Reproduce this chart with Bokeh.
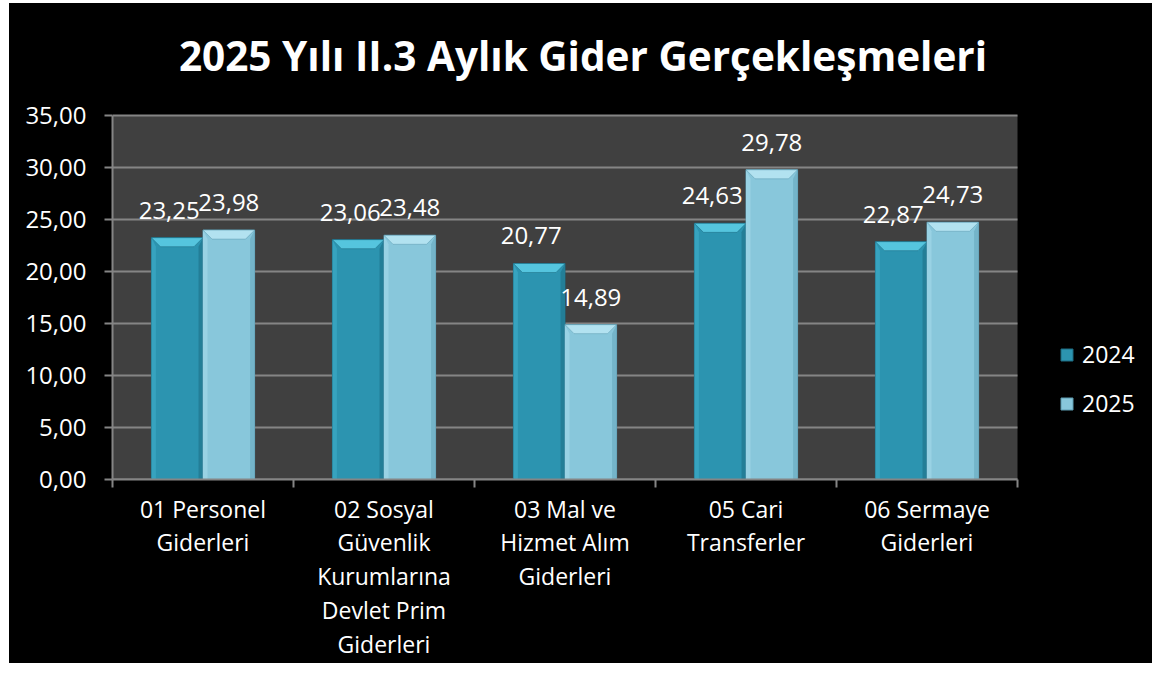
from bokeh.plotting import figure
from bokeh.models import FixedTicker, Legend, LegendItem, ColumnDataSource
from bokeh.core.properties import value
from bokeh.embed import file_html
from bokeh.resources import INLINE

categories = ["01 Personel\nGiderleri",
              "02 Sosyal\nGüvenlik\nKurumlarına\nDevlet Prim\nGiderleri",
              "03 Mal ve\nHizmet Alım\nGiderleri",
              "05 Cari\nTransferler",
              "06 Sermaye\nGiderleri"]
series_names = ["2024", "2025"]
v2024 = [23.25, 23.06, 20.77, 24.63, 22.87]
v2025 = [23.98, 23.48, 14.89, 29.78, 24.73]
y_ticks = [0, 5, 10, 15, 20, 25, 30, 35]
title_text = "2025 Yılı II.3 Aylık Gider Gerçekleşmeleri"

FONT = "Open Sans"
GRID = "#858585"
n = len(categories)
y_max = y_ticks[-1]
bar_w = 0.285
main_colors = ["#2C94B0", "#88C7DB"]
top_colors = ["#55C5DE", "#B2E2F0"]
left_colors = ["#37A3BF", "#99D2E4"]
right_colors = ["#237E97", "#74B4C9"]
edge_colors = ["#1C6A80", "#5C9BB0"]
label_shift = [-8, 0]

# layout (pixels): plot area 905 x 364, frame extended right for the legend
# and upward for the title
W, H = 1143, 660
left_b, right_b, top_b, bottom_b = 103, 8, 5, 184
plot_w, plot_h = 905, 364
frame_w = W - left_b - right_b
frame_h = H - top_b - bottom_b
px_x = plot_w / n          # px per category
px_y = plot_h / y_max      # px per value unit
x_end = frame_w / px_x
y_end = frame_h / px_y

p = figure(width=W, height=H, x_range=(0, x_end), y_range=(0, y_end),
           output_backend="svg", toolbar_location=None,
           background_fill_color="black", border_fill_color="black",
           outline_line_color=None,
           min_border_left=left_b, min_border_right=right_b,
           min_border_top=top_b, min_border_bottom=bottom_b)
p.styles = {"background-color": "black", "margin-left": "9px",
            "margin-top": "3px"}

# title (centre ~60 px above the plot area)
p.text(x=[n / 2], y=[y_max + 60 / px_y], text=[title_text], text_color="white",
       text_font=value(FONT), text_font_size="40.5px", text_font_style="bold",
       text_align="center", text_baseline="middle", x_offset=18)

# plot area background and grid lines
p.quad(left=[0], right=[n], bottom=[0], top=[y_max], fill_color="#404040",
       line_color=None)
p.segment(x0=[0] * len(y_ticks), x1=[n] * len(y_ticks), y0=y_ticks, y1=y_ticks,
          line_color=GRID, line_width=2)

p.xgrid.grid_line_color = None
p.ygrid.grid_line_color = None

# y axis
p.yaxis.ticker = FixedTicker(ticks=y_ticks)
p.yaxis.bounds = (0, y_max)
p.yaxis.major_label_overrides = {v: f"{v:.2f}".replace(".", ",") for v in y_ticks}
p.yaxis.axis_line_color = GRID
p.yaxis.axis_line_width = 2
p.yaxis.major_tick_line_color = GRID
p.yaxis.major_tick_line_width = 2
p.yaxis.major_tick_out = 8
p.yaxis.major_tick_in = 0
p.yaxis.minor_tick_line_color = None
p.yaxis.major_label_standoff = 18
p.yaxis.major_label_text_color = "white"
p.yaxis.major_label_text_font = FONT
p.yaxis.major_label_text_font_size = "24px"

# x axis
centers = [i + 0.5 for i in range(n)]
p.xaxis.ticker = FixedTicker(ticks=centers, minor_ticks=list(range(n + 1)))
p.xaxis.bounds = (0, n)
p.xaxis.major_label_overrides = {c: lab for c, lab in zip(centers, categories)}
p.xaxis.axis_line_color = GRID
p.xaxis.axis_line_width = 2
p.xaxis.major_tick_line_color = None
p.xaxis.major_tick_out = 0
p.xaxis.major_tick_in = 0
p.xaxis.minor_tick_line_color = GRID
p.xaxis.minor_tick_line_width = 2
p.xaxis.minor_tick_out = 8
p.xaxis.minor_tick_in = 0
p.xaxis.major_label_standoff = 5
p.xaxis.major_label_text_color = "white"
p.xaxis.major_label_text_font = FONT
p.xaxis.major_label_text_font_size = "23px"
p.xaxis.major_label_text_line_height = 1.06

# bevel sizes (in data units, roughly 9 px)
dx = 9 / px_x
dy = 9 / px_y

legend_items = []
for k, vals in enumerate([v2024, v2025]):
    off = -bar_w / 2 if k == 0 else bar_w / 2
    xs = [c + off for c in centers]
    src = ColumnDataSource(dict(x=xs, top=vals,
                                lab=[f"{v:.2f}".replace(".", ",") for v in vals]))
    r = p.vbar(x="x", top="top", width=bar_w, bottom=0, source=src,
               fill_color=main_colors[k], line_color=edge_colors[k], line_width=1)
    legend_items.append(LegendItem(label=series_names[k], renderers=[r]))
    txs, tys, lxs, lys, rxs, rys = [], [], [], [], [], []
    for x, v in zip(xs, vals):
        x0, x1 = x - bar_w / 2, x + bar_w / 2
        txs.append([x0, x1, x1 - dx, x0 + dx])
        tys.append([v, v, v - dy, v - dy])
        lxs.append([x0, x0 + dx * 0.5, x0 + dx * 0.5, x0])
        lys.append([v, v - dy, 0, 0])
        rxs.append([x1, x1 - dx * 0.5, x1 - dx * 0.5, x1])
        rys.append([v, v - dy, 0, 0])
    p.patches(lxs, lys, fill_color=left_colors[k], line_color=None)
    p.patches(rxs, rys, fill_color=right_colors[k], line_color=None)
    p.patches(txs, tys, fill_color=top_colors[k], line_color=edge_colors[k],
              line_width=0.5)
    p.text(x="x", y="top", text="lab", source=src, text_color="white",
           text_font=value(FONT), text_font_size="24px", text_align="center",
           text_baseline="bottom", y_offset=-19, x_offset=label_shift[k])

legend = Legend(items=legend_items, location=(947, 60),
                background_fill_alpha=0, border_line_color=None,
                label_text_color="white", label_text_font=FONT,
                label_text_font_size="23px", glyph_width=15, glyph_height=15,
                label_height=24, spacing=17, padding=0, margin=0,
                label_standoff=8)
p.add_layout(legend, "center")

open("out.html", "w").write(file_html(p, INLINE))
